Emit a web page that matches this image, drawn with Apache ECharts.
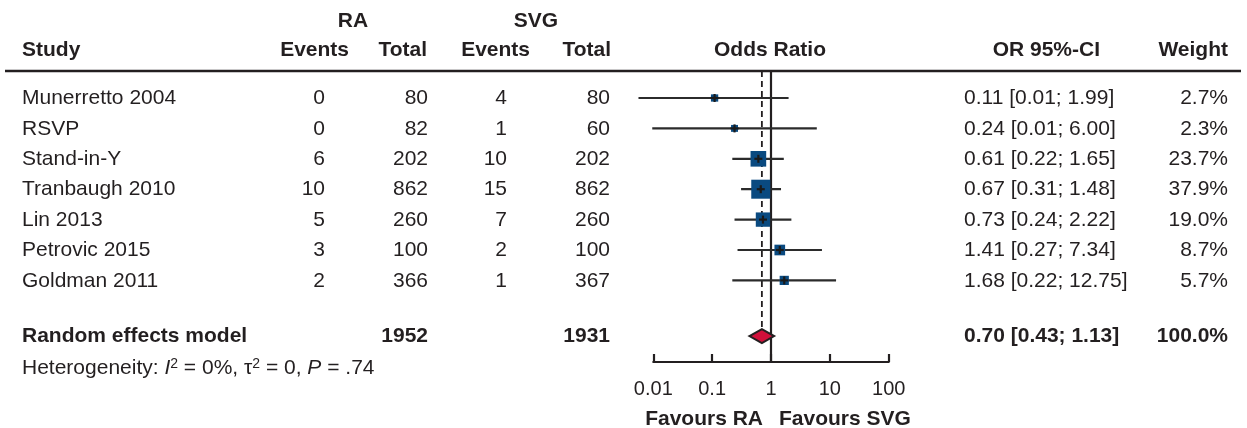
<!DOCTYPE html>
<html><head><meta charset="utf-8">
<script src="https://cdn.jsdelivr.net/npm/echarts@6/dist/echarts.min.js"></script>
<style>html,body{margin:0;padding:0;background:#fff}#c{width:1247px;height:428px}</style>
</head><body><div id="c"></div>
<script>
const studies = ['Munerretto 2004','RSVP','Stand-in-Y','Tranbaugh 2010','Lin 2013','Petrovic 2015','Goldman 2011'];
const raEvents = [0,0,6,10,5,3,2];
const raTotal = [80,82,202,862,260,100,366];
const svgEvents = [4,1,10,15,7,2,1];
const svgTotal = [80,60,202,862,260,100,367];
const orValue = [0.11,0.24,0.61,0.67,0.73,1.41,1.68];
const ciLower = [0.0056,0.0096,0.22,0.31,0.24,0.27,0.22];
const ciUpper = [1.99,6.00,1.65,1.48,2.22,7.34,12.75];
const weights = [2.7,2.3,23.7,37.9,19.0,8.7,5.7];
const pooledLabel = 'Random effects model';
const pooledRaTotal = 1952;
const pooledSvgTotal = 1931;
const pooledOR = 0.70, pooledLower = 0.43, pooledUpper = 1.13, pooledWeight = 100.0;
const heterogeneity = 'Heterogeneity: {it|I}{sup|2} = 0%, τ{sup|2} = 0, {it|P} = .74';
const xTicks = [0.01,0.1,1,10,100];
const leftLabel = 'Favours RA', rightLabel = 'Favours SVG';

const FONT = '"Liberation Sans", Arial, Helvetica, sans-serif';
const INK = '#231f20';
const SQUARE = '#0a4a80';
const yMin = -0.888, yMax = 8.684, pooledRow = 7.83;

const chart = echarts.init(document.getElementById('c'), null, {renderer:'canvas'});
const fmt = v => v.toFixed(2);

const studyData = orValue.map((o,i)=>[o, ciLower[i], ciUpper[i], i, weights[i]]);

const option = {
  animation:false,
  grid:{left:653.3, right:1247-888.7, top:71, bottom:428-362, containLabel:false, outerBoundsMode:'none'},
  xAxis:{type:'log', logBase:10, min:xTicks[0], max:xTicks[xTicks.length-1], position:'bottom',
    axisLine:{show:true, onZero:false, lineStyle:{color:INK, width:2.2}},
    axisTick:{show:true, inside:true, length:8, lineStyle:{color:INK, width:2.2}},
    axisLabel:{color:INK, fontSize:20, fontFamily:FONT, margin:17,
      formatter:v=>String(+Number(v).toPrecision(6))},
    splitLine:{show:false}, minorTick:{show:false}},
  yAxis:{type:'value', inverse:true, min:yMin, max:yMax, show:false},
  series:[
    {type:'line', data:[[1,yMin],[1,yMax]], symbol:'none', silent:true, z:3,
      lineStyle:{color:INK, width:2.2}},
    {type:'line', data:[[pooledOR,yMin],[pooledOR,pooledRow-0.21]], symbol:'none', silent:true, z:3,
      lineStyle:{color:INK, width:1.8, type:[6,4]}},
    {type:'custom', z:4, data:studyData, encode:{x:0,y:3}, clip:false,
      renderItem:(params, api)=>{
        const o=api.value(0), lo=api.value(1), hi=api.value(2), r=api.value(3), w=api.value(4);
        const p=api.coord([o,r]), a=api.coord([lo,r]), b=api.coord([hi,r]);
        const s=3+2.6*Math.sqrt(w);
        return {type:'group', children:[
          {type:'line', shape:{x1:a[0],y1:p[1],x2:b[0],y2:p[1]}, style:{stroke:'#2b2b2b', lineWidth:2.2}},
          {type:'rect', shape:{x:p[0]-s/2, y:p[1]-s/2, width:s, height:s}, style:{fill:SQUARE}},
          {type:'line', shape:{x1:p[0]-4,y1:p[1],x2:p[0]+4,y2:p[1]}, style:{stroke:'#1a1a1a', lineWidth:2.2}},
          {type:'line', shape:{x1:p[0],y1:p[1]-4,x2:p[0],y2:p[1]+4}, style:{stroke:'#1a1a1a', lineWidth:2.2}}
        ]};
      }},
    {type:'custom', z:5, data:[[pooledOR,pooledLower,pooledUpper,pooledRow]], encode:{x:0,y:3}, clip:false,
      renderItem:(params, api)=>{
        const o=api.value(0), lo=api.value(1), hi=api.value(2), r=api.value(3);
        const p=api.coord([o,r]), a=api.coord([lo,r]), b=api.coord([hi,r]);
        const h=7;
        return {type:'polygon', shape:{points:[[a[0],p[1]],[p[0],p[1]-h],[b[0],p[1]],[p[0],p[1]+h]]},
          style:{fill:'#d0103a', stroke:INK, lineWidth:2}};
      }}
  ]
};
chart.setOption(option);

const yPix = v => chart.convertToPixel({gridIndex:0},[1,v])[1];
const g = [];
function txt(t,x,y,align,bold,size,extra){
  g.push({type:'text', silent:true, style:Object.assign({text:t, x:x, y:y, align:align, verticalAlign:'middle',
    fill:INK, fontSize:size||21, fontWeight:bold?'bold':'normal', fontFamily:FONT}, extra||{})});
}
// header
txt('RA',353,21,'center',true);
txt('SVG',536,21,'center',true);
const hy=50.5;
txt('Study',22,hy,'left',true);
txt('Events',349,hy,'right',true);
txt('Total',427,hy,'right',true);
txt('Events',530,hy,'right',true);
txt('Total',611,hy,'right',true);
txt('Odds Ratio',770,hy,'center',true);
txt('OR 95%-CI',1100,hy,'right',true);
txt('Weight',1228,hy,'right',true);
g.push({type:'line', silent:true, shape:{x1:5,y1:71,x2:1241,y2:71}, style:{stroke:INK, lineWidth:2.5}});

studies.forEach((s,i)=>{
  const y=yPix(i)+0.5;
  txt(s,22,y,'left',false);
  txt(String(raEvents[i]),325,y,'right',false);
  txt(String(raTotal[i]),428,y,'right',false);
  txt(String(svgEvents[i]),507,y,'right',false);
  txt(String(svgTotal[i]),610,y,'right',false);
  txt(fmt(orValue[i])+' ['+fmt(ciLower[i])+'; '+fmt(ciUpper[i])+']',964,y,'left',false);
  txt(weights[i].toFixed(1)+'%',1228,y,'right',false);
});
const py=yPix(pooledRow)+0.5;
txt(pooledLabel,22,py,'left',true);
txt(String(pooledRaTotal),428,py,'right',true);
txt(String(pooledSvgTotal),610,py,'right',true);
txt(fmt(pooledOR)+' ['+fmt(pooledLower)+'; '+fmt(pooledUpper)+']',964,py,'left',true);
txt(pooledWeight.toFixed(1)+'%',1228,py,'right',true);
txt(heterogeneity,22,368,'left',false,21,{rich:{
  it:{fontStyle:'italic', fontSize:21, fontFamily:FONT, fill:INK},
  sup:{fontSize:14, fontFamily:FONT, fill:INK, verticalAlign:'top', padding:[0,0,8,0]}
}});
txt(leftLabel,763,419,'right',true);
txt(rightLabel,779,419,'left',true);
chart.setOption({graphic:g});
</script></body></html>
